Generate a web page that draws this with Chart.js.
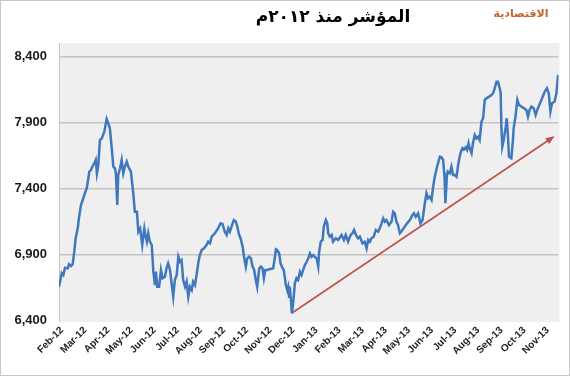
<!DOCTYPE html>
<html><head><meta charset="utf-8">
<script src="https://cdn.jsdelivr.net/npm/chart.js@4"></script>
<style>html,body{margin:0;padding:0;background:#fff;}#wrap{width:570px;height:379px;position:relative}</style>
</head><body><div id="wrap"><canvas id="c" width="570" height="379"></canvas></div>
<script>
const monthLabels = ['Feb-12','Mar-12','Apr-12','May-12','Jun-12','Jul-12','Aug-12','Sep-12','Oct-12','Nov-12','Dec-12',
  'Jan-13','Feb-13','Mar-13','Apr-13','May-13','Jun-13','Jul-13','Aug-13','Sep-13','Oct-13','Nov-13'];
// position in months since Feb-12
const monthPos = [
  -0.13,-0.01,0.06,0.13,0.25,0.30,0.39,0.46,0.53,0.59,
  0.68,0.73,0.82,0.92,0.99,1.07,1.14,1.18,1.25,1.31,
  1.40,1.46,1.51,1.57,1.64,1.72,1.83,1.93,2.00,2.07,
  2.15,2.22,2.29,2.33,2.39,2.43,2.51,2.58,2.65,2.72,
  2.80,2.87,2.98,3.08,3.15,3.24,3.30,3.38,3.47,3.56,
  3.62,3.67,3.73,3.80,3.88,3.95,4.02,4.06,4.12,4.20,
  4.28,4.35,4.45,4.52,4.59,4.67,4.74,4.81,4.88,4.96,
  5.03,5.10,5.17,5.24,5.32,5.39,5.46,5.53,5.61,5.67,
  5.75,5.82,5.89,5.96,6.04,6.14,6.25,6.32,6.40,6.47,
  6.61,6.75,6.86,6.94,7.04,7.12,7.19,7.26,7.33,7.43,
  7.52,7.58,7.66,7.72,7.81,7.88,7.95,8.01,8.09,8.17,
  8.24,8.31,8.38,8.44,8.53,8.60,8.67,8.73,8.79,8.87,
  8.99,9.13,9.20,9.25,9.30,9.39,9.45,9.54,9.59,9.68,
  9.74,9.78,9.82,9.85,9.90,9.94,10.00,10.07,10.14,10.21,
  10.29,10.36,10.43,10.50,10.58,10.65,10.72,10.79,10.86,10.93,
  11.01,11.08,11.12,11.19,11.27,11.32,11.41,11.47,11.51,11.58,
  11.66,11.72,11.84,11.94,12.09,12.19,12.27,12.37,12.48,12.56,
  12.63,12.71,12.80,12.88,12.99,13.09,13.17,13.24,13.31,13.38,
  13.48,13.57,13.67,13.74,13.82,13.89,13.96,14.03,14.14,14.25,
  14.32,14.39,14.46,14.53,14.61,14.72,14.82,14.92,15.04,15.16,
  15.22,15.30,15.40,15.50,15.59,15.69,15.76,15.83,15.90,15.98,
  16.05,16.12,16.22,16.34,16.41,16.48,16.54,16.58,16.65,16.69,
  16.77,16.84,16.91,16.98,17.06,17.13,17.17,17.23,17.32,17.39,
  17.46,17.52,17.58,17.63,17.71,17.77,17.85,17.92,17.99,18.06,
  18.14,18.21,18.28,18.35,18.47,18.57,18.64,18.71,18.79,18.85,
  18.93,18.97,19.00,19.04,19.10,19.19,19.23,19.27,19.33,19.43,
  19.50,19.53,19.61,19.69,19.76,19.87,19.98,20.08,20.15,20.22,
  20.30,20.40,20.48,20.58,20.73,20.87,20.97,21.05,21.12,21.19,
  21.30,21.38,21.45
];
const indexValues = [
  6656,6760,6745,6800,6795,6826,6813,6826,6921,7023,
  7098,7174,7275,7326,7364,7402,7477,7527,7540,7565,
  7591,7616,7515,7578,7767,7780,7830,7927,7894,7856,
  7705,7565,7553,7515,7275,7502,7553,7616,7515,7565,
  7603,7565,7527,7364,7224,7224,7073,7098,6972,7098,
  7035,6997,7061,6997,6972,6770,6669,6770,6656,6656,
  6783,6720,6732,6795,6833,6783,6682,6580,6707,6745,
  6883,6845,6858,6707,6656,6694,6580,6656,6631,6694,
  6669,6745,6833,6896,6934,6947,6972,6997,6985,7035,
  7061,7098,7136,7131,7073,7048,7098,7073,7111,7161,
  7149,7111,7048,7023,6959,6871,6808,6871,6883,6871,
  6808,6783,6707,6656,6795,6808,6795,6720,6783,6783,
  6790,6795,6871,6939,6934,6909,6833,6795,6783,6669,
  6631,6656,6580,6656,6555,6455,6542,6682,6720,6707,
  6770,6745,6783,6820,6845,6871,6909,6883,6896,6883,
  6871,6808,6921,6997,7010,7111,7161,7136,7061,7035,
  7048,6997,7023,7010,7048,7010,7048,6997,7048,7061,
  7086,7048,7023,7035,6985,6997,6947,7010,6997,7023,
  7035,7086,7073,7098,7136,7174,7149,7161,7123,7149,
  7224,7212,7149,7123,7061,7086,7111,7136,7161,7199,
  7212,7186,7212,7136,7161,7288,7364,7326,7338,7313,
  7414,7489,7565,7641,7636,7616,7489,7288,7515,7527,
  7515,7565,7502,7502,7489,7578,7616,7667,7705,7697,
  7712,7692,7742,7705,7667,7742,7805,7780,7792,7767,
  7906,7932,8071,8083,8096,8108,8121,8159,8209,8209,
  8159,8121,7868,7717,7767,7868,7932,7843,7641,7629,
  7767,7856,7944,8071,8033,8020,8008,7995,7944,7995,
  8020,8008,7957,8008,8071,8133,8159,8121,7982,8045,
  8058,8121,8260
];
const trendPos = [9.93, 21.23];
const trendValues = [6455, 7788];
const yTicks = [6400, 6900, 7400, 7900, 8400];
const titleText = 'المؤشر منذ ٢٠١٢م';
const logoText = 'الاقتصادية';

const decor = {
  id: 'decor',
  beforeDraw(chart) {
    const {ctx, chartArea: a} = chart;
    ctx.save();
    ctx.fillStyle = '#ffffff';
    ctx.fillRect(0, 0, chart.width, chart.height);
    ctx.fillStyle = '#efefef';
    ctx.fillRect(a.left, a.top, a.right - a.left + 1, a.bottom - a.top + 1.5);
    ctx.strokeStyle = '#c8c8c8';
    ctx.lineWidth = 1;
    ctx.strokeRect(0.5, 0.5, chart.width - 1, 375);
    ctx.restore();
  },
  afterDatasetsDraw(chart) {
    const {ctx} = chart;
    const meta = chart.getDatasetMeta(1);
    const p0 = meta.data[0], p1 = meta.data[1];
    const ang = Math.atan2(p1.y - p0.y, p1.x - p0.x);
    ctx.save();
    ctx.fillStyle = '#c0504d';
    ctx.beginPath();
    ctx.moveTo(p1.x + 2 * Math.cos(ang), p1.y + 2 * Math.sin(ang));
    ctx.lineTo(p1.x - 7 * Math.cos(ang) + 3.5 * Math.sin(ang), p1.y - 7 * Math.sin(ang) - 3.5 * Math.cos(ang));
    ctx.lineTo(p1.x - 7 * Math.cos(ang) - 3.5 * Math.sin(ang), p1.y - 7 * Math.sin(ang) + 3.5 * Math.cos(ang));
    ctx.closePath();
    ctx.fill();
    ctx.restore();
  },
  afterDraw(chart) {
    const {ctx} = chart;
    ctx.save();
    ctx.direction = 'rtl';
    ctx.textAlign = 'center';
    ctx.textBaseline = 'middle';
    ctx.fillStyle = '#000000';
    ctx.font = 'bold 17px "DejaVu Sans"';
    ctx.fillText(titleText, 333, 18);
    ctx.fillStyle = '#c3642c';
    ctx.font = 'bold 11px "DejaVu Sans"';
    ctx.fillText(logoText, 521, 14);
    ctx.restore();
  }
};

new Chart(document.getElementById('c'), {
  type: 'line',
  data: {
    datasets: [
      {
        data: monthPos.map((m, i) => ({x: m, y: indexValues[i]})),
        borderColor: '#3f78bd',
        borderWidth: 2.5,
        pointRadius: 0,
        tension: 0,
        fill: false
      },
      {
        data: trendPos.map((m, i) => ({x: m, y: trendValues[i]})),
        borderColor: '#c0504d',
        borderWidth: 1.6,
        pointRadius: 0,
        fill: false
      }
    ]
  },
  options: {
    responsive: false,
    animation: false,
    devicePixelRatio: 1,
    layout: {padding: {top: 43, right: 11.5, left: 0, bottom: 0}},
    plugins: {legend: {display: false}, tooltip: {enabled: false}, title: {display: false}},
    scales: {
      x: {
        type: 'linear',
        min: -0.13,
        max: 21.47,
        afterBuildTicks(axis) { axis.ticks = monthLabels.map((_, i) => ({value: i})); },
        afterFit(scale) { scale.height = 379 - 320.5; },
        grid: {display: false, drawTicks: false},
        border: {display: false},
        ticks: {
          autoSkip: false,
          maxRotation: 45,
          minRotation: 45,
          padding: 4,
          color: '#222222',
          font: {family: '"Liberation Sans"', size: 10, weight: 'bold'},
          callback: v => monthLabels[v]
        }
      },
      y: {
        min: 6400,
        max: 8502,
        afterBuildTicks(axis) { axis.ticks = yTicks.map(v => ({value: v})); },
        afterFit(scale) { scale.width = 59; },
        grid: {
          drawTicks: false,
          lineWidth: 1.6,
          color: c => (c.tick && c.tick.value === 6400) ? 'rgba(0,0,0,0)' : '#c4c4c4'
        },
        border: {display: true, color: '#c4c4c4', width: 1},
        ticks: {
          padding: 12,
          color: '#1a1a1a',
          font: {family: '"Liberation Sans"', size: 13, weight: 'bold'},
          callback: v => v.toLocaleString('en-US')
        }
      }
    }
  },
  plugins: [decor]
});
</script>
</body></html>
